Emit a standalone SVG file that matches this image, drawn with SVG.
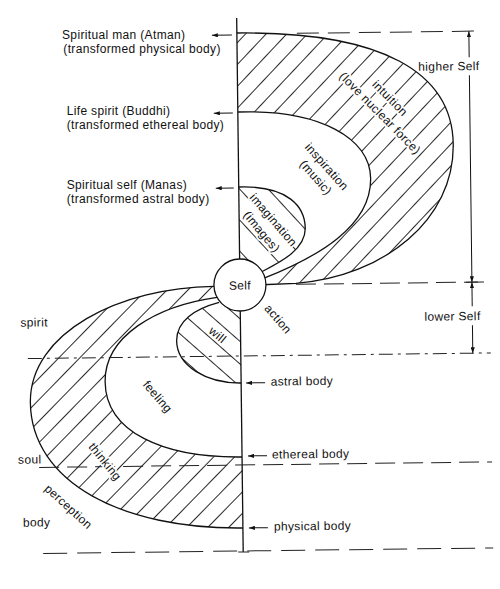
<svg xmlns="http://www.w3.org/2000/svg" width="500" height="589" viewBox="0 0 500 589">
<defs>
<style>
.t{font-family:"Liberation Sans",Arial,sans-serif;font-size:12px;letter-spacing:0.35px;fill:#111}
.m{text-anchor:middle}
.h{stroke:#fff;stroke-width:3.5px;stroke-linejoin:round;paint-order:stroke}
.c{fill:none;stroke:#111;stroke-width:1.3}
.w{fill:#fff;stroke:none}
.d{fill:none;stroke:#222;stroke-width:1}
.a{fill:none;stroke:#111;stroke-width:1;marker-end:url(#ah)}
</style>
<marker id="ah" viewBox="0 0 10 7" refX="10" refY="3.5" markerWidth="6" markerHeight="4.2" orient="auto"><path d="M0,0 L10,3.5 L0,7 z" fill="#111"/></marker>
<pattern id="p1" patternUnits="userSpaceOnUse" width="30" height="15" patternTransform="rotate(-46)"><line x1="0" y1="7.5" x2="30" y2="7.5" stroke="#111" stroke-width="0.9"/></pattern>
<pattern id="p2" patternUnits="userSpaceOnUse" width="30" height="15" patternTransform="rotate(-45)"><line x1="0" y1="7.5" x2="30" y2="7.5" stroke="#111" stroke-width="0.9"/></pattern>
<pattern id="p3" patternUnits="userSpaceOnUse" width="30" height="17" patternTransform="rotate(42)"><line x1="0" y1="8.5" x2="30" y2="8.5" stroke="#111" stroke-width="0.9"/></pattern>
<pattern id="p4" patternUnits="userSpaceOnUse" width="30" height="21" patternTransform="rotate(48)"><line x1="0" y1="10.5" x2="30" y2="10.5" stroke="#111" stroke-width="0.9"/></pattern>
</defs>
<rect width="500" height="589" fill="#fff"/>
<g transform="rotate(-0.7 240 290)">
<g id="upper-shape">
<path d="M240,33 C385,33 455,75 455,147 C455,222 385,278 296,284 L240,285 Z" fill="url(#p1)"/>
<path class="w" d="M240,112 C322,110 372,140 372,180 C372,228 318,258 263,279 L240,285 Z"/>
<path d="M240,187 C290,186 306,208 306,229 C306,250 282,262 262,272 L240,285 Z" fill="url(#p4)"/>
<path class="c" d="M240,33 C385,33 455,75 455,147 C455,222 385,278 296,284 L262,285"/>
<path class="c" d="M240,112 C322,110 372,140 372,180 C372,228 318,258 263,279"/>
<path class="c" d="M240,187 C290,186 306,208 306,229 C306,250 282,262 262,272"/>
</g>
<g id="lower-shape">
<path d="M214,286 C120,286 29,330 29,400 C29,480 120,528 240,528 L240,285 Z" fill="url(#p2)"/>
<path class="w" d="M217,297 C155,305 104,335 104,380 C104,430 160,457 240,457 L240,285 Z"/>
<path d="M219,302 C195,308 176,320 176,340 C176,365 205,383 240,383 L240,285 Z" fill="url(#p3)"/>
<path class="c" d="M214,286 C120,286 29,330 29,400 C29,480 120,528 240,528"/>
<path class="c" d="M217,297 C155,305 104,335 104,380 C104,430 160,457 240,457"/>
<path class="c" d="M219,302 C195,308 176,320 176,340 C176,365 205,383 240,383"/>
</g>
<g id="axis">
<line class="c" x1="240" y1="18" x2="240" y2="552"/>
<line class="d" x1="235" y1="552" x2="246" y2="552"/>
</g>
<g id="connectors">
<line class="d" x1="300" y1="34" x2="482" y2="34" stroke-dasharray="22 9"/>
<line class="d" x1="296" y1="285" x2="484" y2="285" stroke-dasharray="20 8"/>
<line class="d" x1="27" y1="356" x2="490" y2="356" stroke-dasharray="14 5 3 5"/>
<line class="d" x1="37" y1="465" x2="490" y2="465" stroke-dasharray="20 8"/>
<line class="d" x1="40" y1="551" x2="490" y2="551" stroke-dasharray="24 10"/>
<line class="a" x1="472" y1="60" x2="472" y2="34"/>
<line class="a" x1="472" y1="78" x2="472" y2="285"/>
<line class="a" x1="472" y1="309" x2="472" y2="285"/>
<line class="a" x1="472" y1="328" x2="472" y2="356"/>
<line class="d" x1="466" y1="285" x2="478" y2="285"/>
<line class="a" x1="235" y1="35" x2="215" y2="35"/>
<line class="a" x1="235" y1="113" x2="216" y2="113"/>
<line class="a" x1="235" y1="188" x2="217" y2="188"/>
<line class="a" x1="264" y1="383" x2="245" y2="383"/>
<line class="a" x1="265" y1="456" x2="246" y2="456"/>
<line class="a" x1="265" y1="528" x2="246" y2="528"/>
</g>
<g id="self">
<circle cx="240" cy="285" r="26" fill="#fff" stroke="#111" stroke-width="1.3"/>
<text class="t m" x="240" y="289.5">Self</text>
</g>
<g id="labels-lower-left">
<text class="t" x="20" y="324">spirit</text>
<text class="t" x="16" y="461">soul</text>
<text class="t" x="20" y="524">body</text>
</g>
<g id="labels-right">
<text class="t" x="421" y="73">higher Self</text>
<text class="t" x="424" y="323">lower Self</text>
<text class="t" x="269.5" y="386">astral body</text>
<text class="t" x="270" y="459">ethereal body</text>
<text class="t" x="271" y="531">physical body</text>
<text class="t m" transform="translate(277.6 319.5) rotate(50)" y="4">action</text>
</g>
<g id="labels-upper">
<text class="t m h" transform="translate(392.3 100.2) rotate(46)" y="4">intuition</text>
<text class="t m h" transform="translate(382.2 115) rotate(46)" y="4">(love nuclear force)</text>
<text class="t m" transform="translate(328.2 167.8) rotate(49)" y="4">inspiration</text>
<text class="t m" transform="translate(317.2 178.4) rotate(49)" y="4">(music)</text>
<text class="t m h" transform="translate(274.2 220.4) rotate(50)" y="4">imagination</text>
<text class="t m h" transform="translate(262.4 232) rotate(51)" y="4">(images)</text>
</g>
<g id="labels-lower">
<text class="t m h" transform="translate(217 334.7) rotate(40)" y="4">will</text>
<text class="t m" transform="translate(156.2 395.7) rotate(50)" y="4">feeling</text>
<text class="t m h" transform="translate(102.9 460) rotate(52)" y="4">thinking</text>
<text class="t m" transform="translate(65.7 504.6) rotate(43)" y="4">perception</text>
</g>
</g>
<g id="labels-left">
<text class="t" x="62" y="39.3">Spiritual man (Atman)</text>
<text class="t" x="63.3" y="53.3">(transformed physical body)</text>
<text class="t" x="66.7" y="114.5">Life spirit (Buddhi)</text>
<text class="t" x="66.7" y="128.5">(transformed ethereal body)</text>
<text class="t" x="66.7" y="189.3">Spiritual self (Manas)</text>
<text class="t" x="66.7" y="203.3">(transformed astral body)</text>
</g>
</svg>
